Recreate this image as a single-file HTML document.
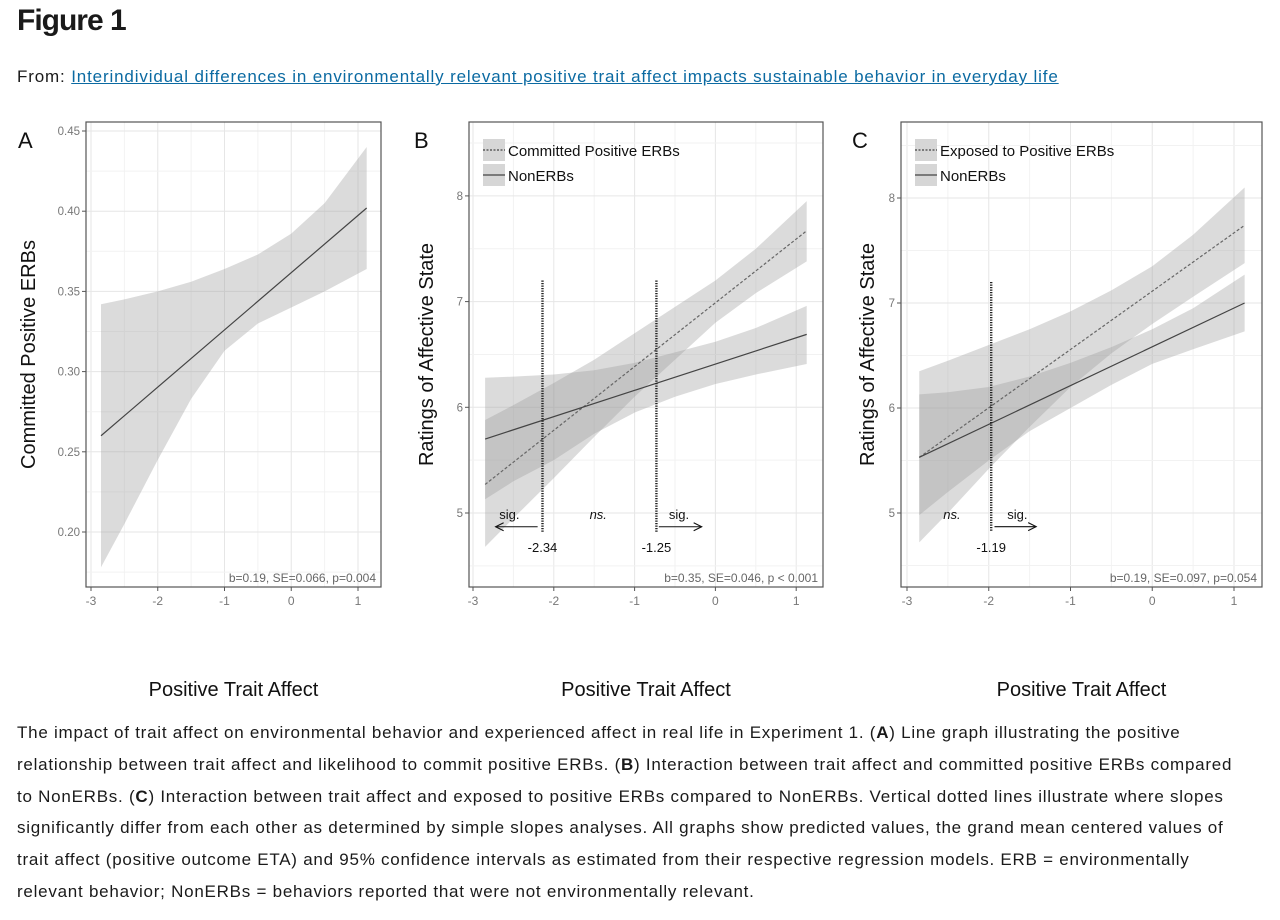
<!DOCTYPE html>
<html><head><meta charset="utf-8">
<style>
body{margin:0;width:1280px;height:920px;background:#fff;font-family:"Liberation Sans",sans-serif;color:#1a1a1a;overflow:hidden;position:relative}
#title{position:absolute;left:17px;top:4px;font-size:30px;font-weight:bold;letter-spacing:-1px}
#from{position:absolute;left:17px;top:67px;font-size:17px;letter-spacing:0.85px}
#from a{color:#0b6aa2;text-decoration:underline}
#caption{position:absolute;left:17px;top:717px;width:1232px;font-size:17px;line-height:31.8px;letter-spacing:0.75px}
svg{position:absolute;left:0;top:0}
</style></head><body>
<div id="title">Figure 1</div>
<div id="from">From: <a>Interindividual differences in environmentally relevant positive trait affect impacts sustainable behavior in everyday life</a></div>
<svg id="chart" width="1280" height="715"></svg>
<div id="caption">The impact of trait affect on environmental behavior and experienced affect in real life in Experiment 1. (<b>A</b>) Line graph illustrating the positive relationship between trait affect and likelihood to commit positive ERBs. (<b>B</b>) Interaction between trait affect and committed positive ERBs compared to NonERBs. (<b>C</b>) Interaction between trait affect and exposed to positive ERBs compared to NonERBs. Vertical dotted lines illustrate where slopes significantly differ from each other as determined by simple slopes analyses. All graphs show predicted values, the grand mean centered values of trait affect (positive outcome ETA) and 95% confidence intervals as estimated from their respective regression models. ERB = environmentally relevant behavior; NonERBs = behaviors reported that were not environmentally relevant.</div>
<script>
// data
const bandX = [-2.85, -2.5, -2, -1.5, -1, -0.5, 0, 0.5, 1.13];
const xTicks = [-3, -2, -1, 0, 1];
const aLine = [0.26, 0.402];
const aLower = [0.178, 0.205, 0.245, 0.283, 0.313, 0.330, 0.340, 0.350, 0.364];
const aUpper = [0.342, 0.345, 0.350, 0.356, 0.364, 0.373, 0.386, 0.405, 0.44];
const aYTicks = [0.20, 0.25, 0.30, 0.35, 0.40, 0.45];
const bDotLine = [5.27, 7.67];
const bDotLower = [4.68, 4.95, 5.33, 5.72, 6.1, 6.45, 6.8, 7.08, 7.38];
const bDotUpper = [5.88, 6.02, 6.23, 6.45, 6.7, 6.95, 7.2, 7.5, 7.95];
const bSolLine = [5.70, 6.69];
const bSolLower = [5.13, 5.3, 5.5, 5.75, 5.95, 6.1, 6.22, 6.31, 6.41];
const bSolUpper = [6.28, 6.29, 6.31, 6.35, 6.42, 6.52, 6.62, 6.75, 6.96];
const bVlines = [-2.14, -0.73];
const bVlabels = ["-2.34", "-1.25"];
const cDotLine = [5.53, 7.74];
const cDotLower = [4.72, 5.0, 5.42, 5.82, 6.2, 6.52, 6.8, 7.06, 7.38];
const cDotUpper = [6.35, 6.45, 6.6, 6.75, 6.92, 7.12, 7.35, 7.65, 8.1];
const cSolLine = [5.53, 7.0];
const cSolLower = [4.98, 5.2, 5.5, 5.78, 6.0, 6.22, 6.42, 6.56, 6.73];
const cSolUpper = [6.13, 6.15, 6.2, 6.3, 6.43, 6.58, 6.75, 6.95, 7.27];
const cVlines = [-1.97];
const cVlabels = ["-1.19"];
const bcYTicks = [5, 6, 7, 8];

const svg = document.getElementById('chart');
const NS = 'http://www.w3.org/2000/svg';
function mk(tag, attrs, parent, text){
  const e = document.createElementNS(NS, tag);
  for (const k in attrs) e.setAttribute(k, attrs[k]);
  if (text !== undefined) e.textContent = text;
  (parent || svg).appendChild(e);
  return e;
}
function panel(o){
  const g = mk('g', {});
  
  
  const X = v => o.x0 + (v - (-3)) * o.xs;
  const Y = v => o.y0 - (v - o.yref) * o.ys;
  for (let v = -3.5; v <= 1.6; v += 0.5) {
    const px = X(v); if (px < o.left || px > o.right) continue;
    const gl = mk('line', {x1:px, x2:px, y1:o.top, y2:o.bottom, stroke: Number.isInteger(v) ? '#e6e6e6' : '#f2f2f2', 'stroke-width':1}, g);
    
    
  }
  for (let i = -20; i <= 40; i++) {
    const v = o.yref + i * o.ystep / 2; const py = Y(v);
    if (py < o.top || py > o.bottom) continue;
    const gl = mk('line', {x1:o.left, x2:o.right, y1:py, y2:py, stroke: i % 2 === 0 ? '#e6e6e6' : '#f2f2f2', 'stroke-width':1}, g);
    
    
  }
  o.series.forEach(s => {
    let d = bandX.map((x, i) => (i ? 'L' : 'M') + X(x) + ',' + Y(s.upper[i])).join('');
    for (let i = bandX.length - 1; i >= 0; i--) d += 'L' + X(bandX[i]) + ',' + Y(s.lower[i]);
    const p = mk('path', {d: d + 'Z', fill:'#9a9a9a', 'fill-opacity':0.36}, g);
    
    
  });
  o.series.forEach(s => {
    const l = mk('line', {x1:X(bandX[0]), y1:Y(s.line[0]), x2:X(bandX[bandX.length-1]), y2:Y(s.line[1]), stroke: s.dash ? '#666' : '#444', 'stroke-width':1.2, 'stroke-dasharray': s.dash ? '3,2' : 'none'}, g);
    
    
  });
  const b = mk('rect', {x:o.left, y:o.top, width:o.right-o.left, height:o.bottom-o.top, fill:'none', stroke:'#555', 'stroke-width':1.2}, g);
  
  
  xTicks.forEach(v => {
    mk('line', {x1:X(v), x2:X(v), y1:o.bottom, y2:o.bottom+4, stroke:'#555'}, g);
    const t = mk('text', {x:X(v), y:o.bottom+18, 'font-size':12, fill:'#777', 'text-anchor':'middle'}, g, String(v));
    
    
  });
  o.yTicks.forEach(v => {
    mk('line', {x1:o.left-4, x2:o.left, y1:Y(v), y2:Y(v), stroke:'#555'}, g);
    const t = mk('text', {x:o.left-6, y:Y(v)+4, 'font-size':11.5, fill:'#777', 'text-anchor':'end'}, g, o.fmt(v));
    
    
  });
  const xt = mk('text', {x:(o.left+o.right)/2, y:696, 'font-size':20, fill:'#111', 'text-anchor':'middle'}, g, 'Positive Trait Affect');
  
  
  const yt = mk('text', {x:0, y:0, 'font-size':20, fill:'#111', 'text-anchor':'middle', transform:`translate(${o.ytx},${(o.top+o.bottom)/2}) rotate(-90)`}, g, o.ytitle);
  
  
  const pl = mk('text', {x:o.lx, y:148, 'font-size':22, fill:'#111'}, g, o.letter);
  
  
  const st = mk('text', {x:o.right-5, y:o.bottom-5, 'font-size':12, fill:'#666', 'text-anchor':'end'}, g, o.stat);
  
  
  if (o.legend) {
    o.legend.forEach((s, i) => {
      const ly = o.top + 17 + i * 25;
      const r = mk('rect', {x:o.left+14, y:ly, width:22, height:22, fill:'#d6d6d6'}, g);
      
      
      mk('line', {x1:o.left+14, x2:o.left+36, y1:ly+11, y2:ly+11, stroke:'#444', 'stroke-width':1.2, 'stroke-dasharray': s.dash ? '2,1.5' : 'none'}, g);
      const t = mk('text', {x:o.left+39, y:ly+17, 'font-size':15, fill:'#111'}, g, s.label);
      
      
    });
  }
  (o.vlines || []).forEach((v, i) => {
    const vl = mk('line', {x1:X(v), x2:X(v), y1:Y(7.2), y2:Y(4.82), stroke:'#222', 'stroke-width':2.4, 'stroke-dasharray':'1.3,1.2'}, g);
    
    
    const t = mk('text', {x:X(v), y:Y(4.82)+20, 'font-size':13, fill:'#111', 'text-anchor':'middle'}, g, o.vlabels[i]);
    
    
  });
  (o.notes || []).forEach(n => {
    const t = mk('text', {x:X(n.x), y:Y(5.0)+6, 'font-size':13, fill:'#111', 'text-anchor':'middle', 'font-style': n.italic ? 'italic' : 'normal'}, g, n.t);
    
    
    if (n.arrow) {
      const y = Y(4.87); const x1 = X(n.a0), x2 = X(n.a1);
      mk('line', {x1:x1, x2:x2, y1:y, y2:y, stroke:'#111', 'stroke-width':1.1}, g);
      const dir = Math.sign(x2 - x1);
      mk('path', {d:`M${x2-dir*8},${y-4}L${x2},${y}L${x2-dir*8},${y+4}`, fill:'none', stroke:'#111', 'stroke-width':1.1}, g);
    }
  });
}
panel({name:'panel-a', letter:'A', lx:18, left:86, right:381, top:122, bottom:587, x0:91, xs:66.75, y0:532, yref:0.20, ys:1604, ystep:0.05,
  yv:v=>v, yTicks:aYTicks, fmt:v=>v.toFixed(2), ytitle:'Committed Positive ERBs', ytx:35, stat:'b=0.19, SE=0.066, p=0.004',
  series:[{name:'committed-erbs', line:aLine, lower:aLower, upper:aUpper, dash:false}]});
panel({name:'panel-b', letter:'B', lx:414, left:469, right:823, top:122, bottom:587, x0:473, xs:80.8, y0:513, yref:5, ys:105.7, ystep:1,
  yv:v=>v, yTicks:bcYTicks, fmt:v=>String(v), ytitle:'Ratings of Affective State', ytx:433, stat:'b=0.35, SE=0.046, p < 0.001',
  series:[{name:'committed-erbs', line:bDotLine, lower:bDotLower, upper:bDotUpper, dash:true},{name:'nonerbs', line:bSolLine, lower:bSolLower, upper:bSolUpper, dash:false}],
  legend:[{label:'Committed Positive ERBs', dash:true},{label:'NonERBs', dash:false}],
  vlines:bVlines, vlabels:bVlabels,
  notes:[{x:-2.55, t:'sig.', arrow:true, a0:-2.2, a1:-2.72},{x:-1.45, t:'ns.', italic:true},{x:-0.45, t:'sig.', arrow:true, a0:-0.7, a1:-0.17}]});
panel({name:'panel-c', letter:'C', lx:852, left:901, right:1262, top:122, bottom:587, x0:907, xs:81.75, y0:513, yref:5, ys:105, ystep:1,
  yv:v=>v, yTicks:bcYTicks, fmt:v=>String(v), ytitle:'Ratings of Affective State', ytx:874, stat:'b=0.19, SE=0.097, p=0.054',
  series:[{name:'exposed-erbs', line:cDotLine, lower:cDotLower, upper:cDotUpper, dash:true},{name:'nonerbs', line:cSolLine, lower:cSolLower, upper:cSolUpper, dash:false}],
  legend:[{label:'Exposed to Positive ERBs', dash:true},{label:'NonERBs', dash:false}],
  vlines:cVlines, vlabels:cVlabels,
  notes:[{x:-2.45, t:'ns.', italic:true},{x:-1.65, t:'sig.', arrow:true, a0:-1.93, a1:-1.42}]});
</script>
</body></html>
